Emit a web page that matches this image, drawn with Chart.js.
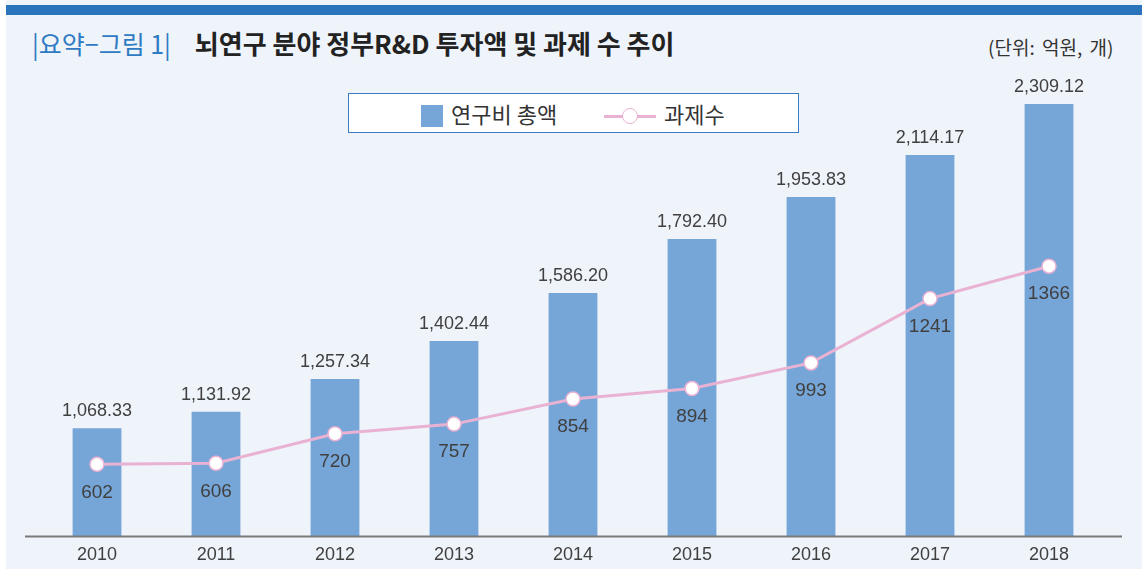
<!DOCTYPE html>
<html>
<head>
<meta charset="utf-8">
<script src="https://cdn.jsdelivr.net/npm/chart.js"></script>
<style>
  html, body { margin: 0; padding: 0; background: #fff; }
  #frame { position: relative; width: 1142px; height: 569px; overflow: hidden; }
  #panel { position: absolute; left: 6px; top: 0; width: 1136px; height: 569px; background: #eff3fa; }
  #stripe { position: absolute; left: 6px; top: 5px; width: 1136px; height: 10px; background: #2a74bb; }
  #title { position: absolute; left: 32px; top: 26px; font-family: "Noto Sans CJK KR", sans-serif; white-space: nowrap; line-height: 34px; }
  #title .tag { color: #2e7bc4; font-size: 25px; margin-right: 24px; }
  #title .main { color: #222; font-size: 26px; font-weight: bold; }
  #unit { position: absolute; left: 988px; top: 33px; font-family: "Noto Sans CJK KR", sans-serif; font-size: 19px; color: #333; white-space: nowrap; word-spacing: 3px; }
  #legend { position: absolute; left: 348px; top: 93px; width: 449px; height: 38px; background: #fff; border: 1.5px solid #3a7cc4; font-family: "Noto Sans CJK KR", sans-serif; font-size: 22px; color: #333; }
  #legend .item { position: absolute; top: 0; height: 38px; line-height: 38px; white-space: nowrap; }
  #chart { position: absolute; left: 0; top: 0; }
</style>
</head>
<body>
<div id="frame">
  <div id="panel"></div>
  <div id="stripe"></div>
  <div id="title"><span class="tag">|요약−그림 1|</span><span class="main">뇌연구 분야 정부R&amp;D 투자액 및 과제 수 추이</span></div>
  <div id="unit">(단위: 억원, 개)</div>
  <div id="legend"></div>
  <canvas id="chart" width="1142" height="578"></canvas>
</div>

<script>
  // data
  var years = ["2010", "2011", "2012", "2013", "2014", "2015", "2016", "2017", "2018"];
  var funding = [1068.33, 1131.92, 1257.34, 1402.44, 1586.20, 1792.40, 1953.83, 2114.17, 2309.12];
  var projects = [602, 606, 720, 757, 854, 894, 993, 1241, 1366];
  var seriesNames = ["연구비 총액", "과제수"];

  var barColor = "#76a5d7";
  var lineColor = "#e9b2d3";
  var numFont = '"Liberation Sans", Arial, sans-serif';

  function fmt(v) {
    return v.toLocaleString("en-US", { minimumFractionDigits: 2, maximumFractionDigits: 2 });
  }

  // legend (html box)
  var legend = document.getElementById("legend");
  legend.innerHTML =
    '<div class="item" style="left:72px"><span style="display:inline-block;width:22px;height:22px;background:' + barColor + ';vertical-align:-4px;margin-right:8px"></span>' + seriesNames[0] + '</div>' +
    '<div class="item" style="left:255px"><span style="display:inline-block;position:relative;width:52px;height:22px;vertical-align:-4px;margin-right:8px">' +
    '<span style="position:absolute;left:0;top:10px;width:52px;height:3px;background:' + lineColor + '"></span>' +
    '<span style="position:absolute;left:18px;top:3px;width:14px;height:14px;border-radius:50%;background:#fff;border:1.5px solid ' + lineColor + '"></span></span>' + seriesNames[1] + '</div>';

  // value labels + axis line
  var labelPlugin = {
    id: "valueLabels",
    afterDatasetsDraw: function(chart) {
      var ctx = chart.ctx;
      var area = chart.chartArea;
      ctx.save();
      ctx.strokeStyle = "#7a7a7a";
      ctx.lineWidth = 2;
      ctx.beginPath();
      ctx.moveTo(25, area.bottom);
      ctx.lineTo(1122, area.bottom);
      ctx.stroke();

      ctx.textAlign = "center";
      ctx.textBaseline = "middle";
      ctx.fillStyle = "#404040";
      ctx.font = "18px " + numFont;
      chart.getDatasetMeta(1).data.forEach(function(bar, i) {
        ctx.fillText(fmt(funding[i]), bar.x, bar.y - 17);
      });
      ctx.font = "19px " + numFont;
      chart.getDatasetMeta(0).data.forEach(function(pt, i) {
        ctx.fillText(String(projects[i]), pt.x, pt.y + 28);
      });
      ctx.restore();
    }
  };

  var ctxChart = document.getElementById("chart").getContext("2d");
  var chart = new Chart(ctxChart, {
    type: "bar",
    data: {
      labels: years,
      datasets: [{
        type: "line",
        label: seriesNames[1],
        data: projects,
        yAxisID: "yLine",
        borderColor: lineColor,
        borderWidth: 3,
        pointRadius: 7,
        pointBackgroundColor: "#fff",
        pointBorderColor: lineColor,
        pointBorderWidth: 1.5,
        tension: 0,
        order: 0
      }, {
        type: "bar",
        label: seriesNames[0],
        data: funding,
        yAxisID: "yBar",
        backgroundColor: barColor,
        barPercentage: 0.82,
        categoryPercentage: 0.5,
        order: 1
      }]
    },
    options: {
      responsive: false,
      animation: false,
      layout: { padding: { left: 37.5, right: 33.5, top: 80, bottom: 4 } },
      plugins: {
        legend: { display: false },
        tooltip: { enabled: false }
      },
      scales: {
        x: {
          grid: { display: false, drawTicks: false },
          border: { display: false },
          ticks: { color: "#404040", font: { family: numFont, size: 18 }, padding: 8 }
        },
        yBar: { display: false, min: 655, max: 2401 },
        yLine: { display: false, min: 324, max: 2084 }
      }
    },
    plugins: [labelPlugin]
  });
</script>
</body>
</html>
